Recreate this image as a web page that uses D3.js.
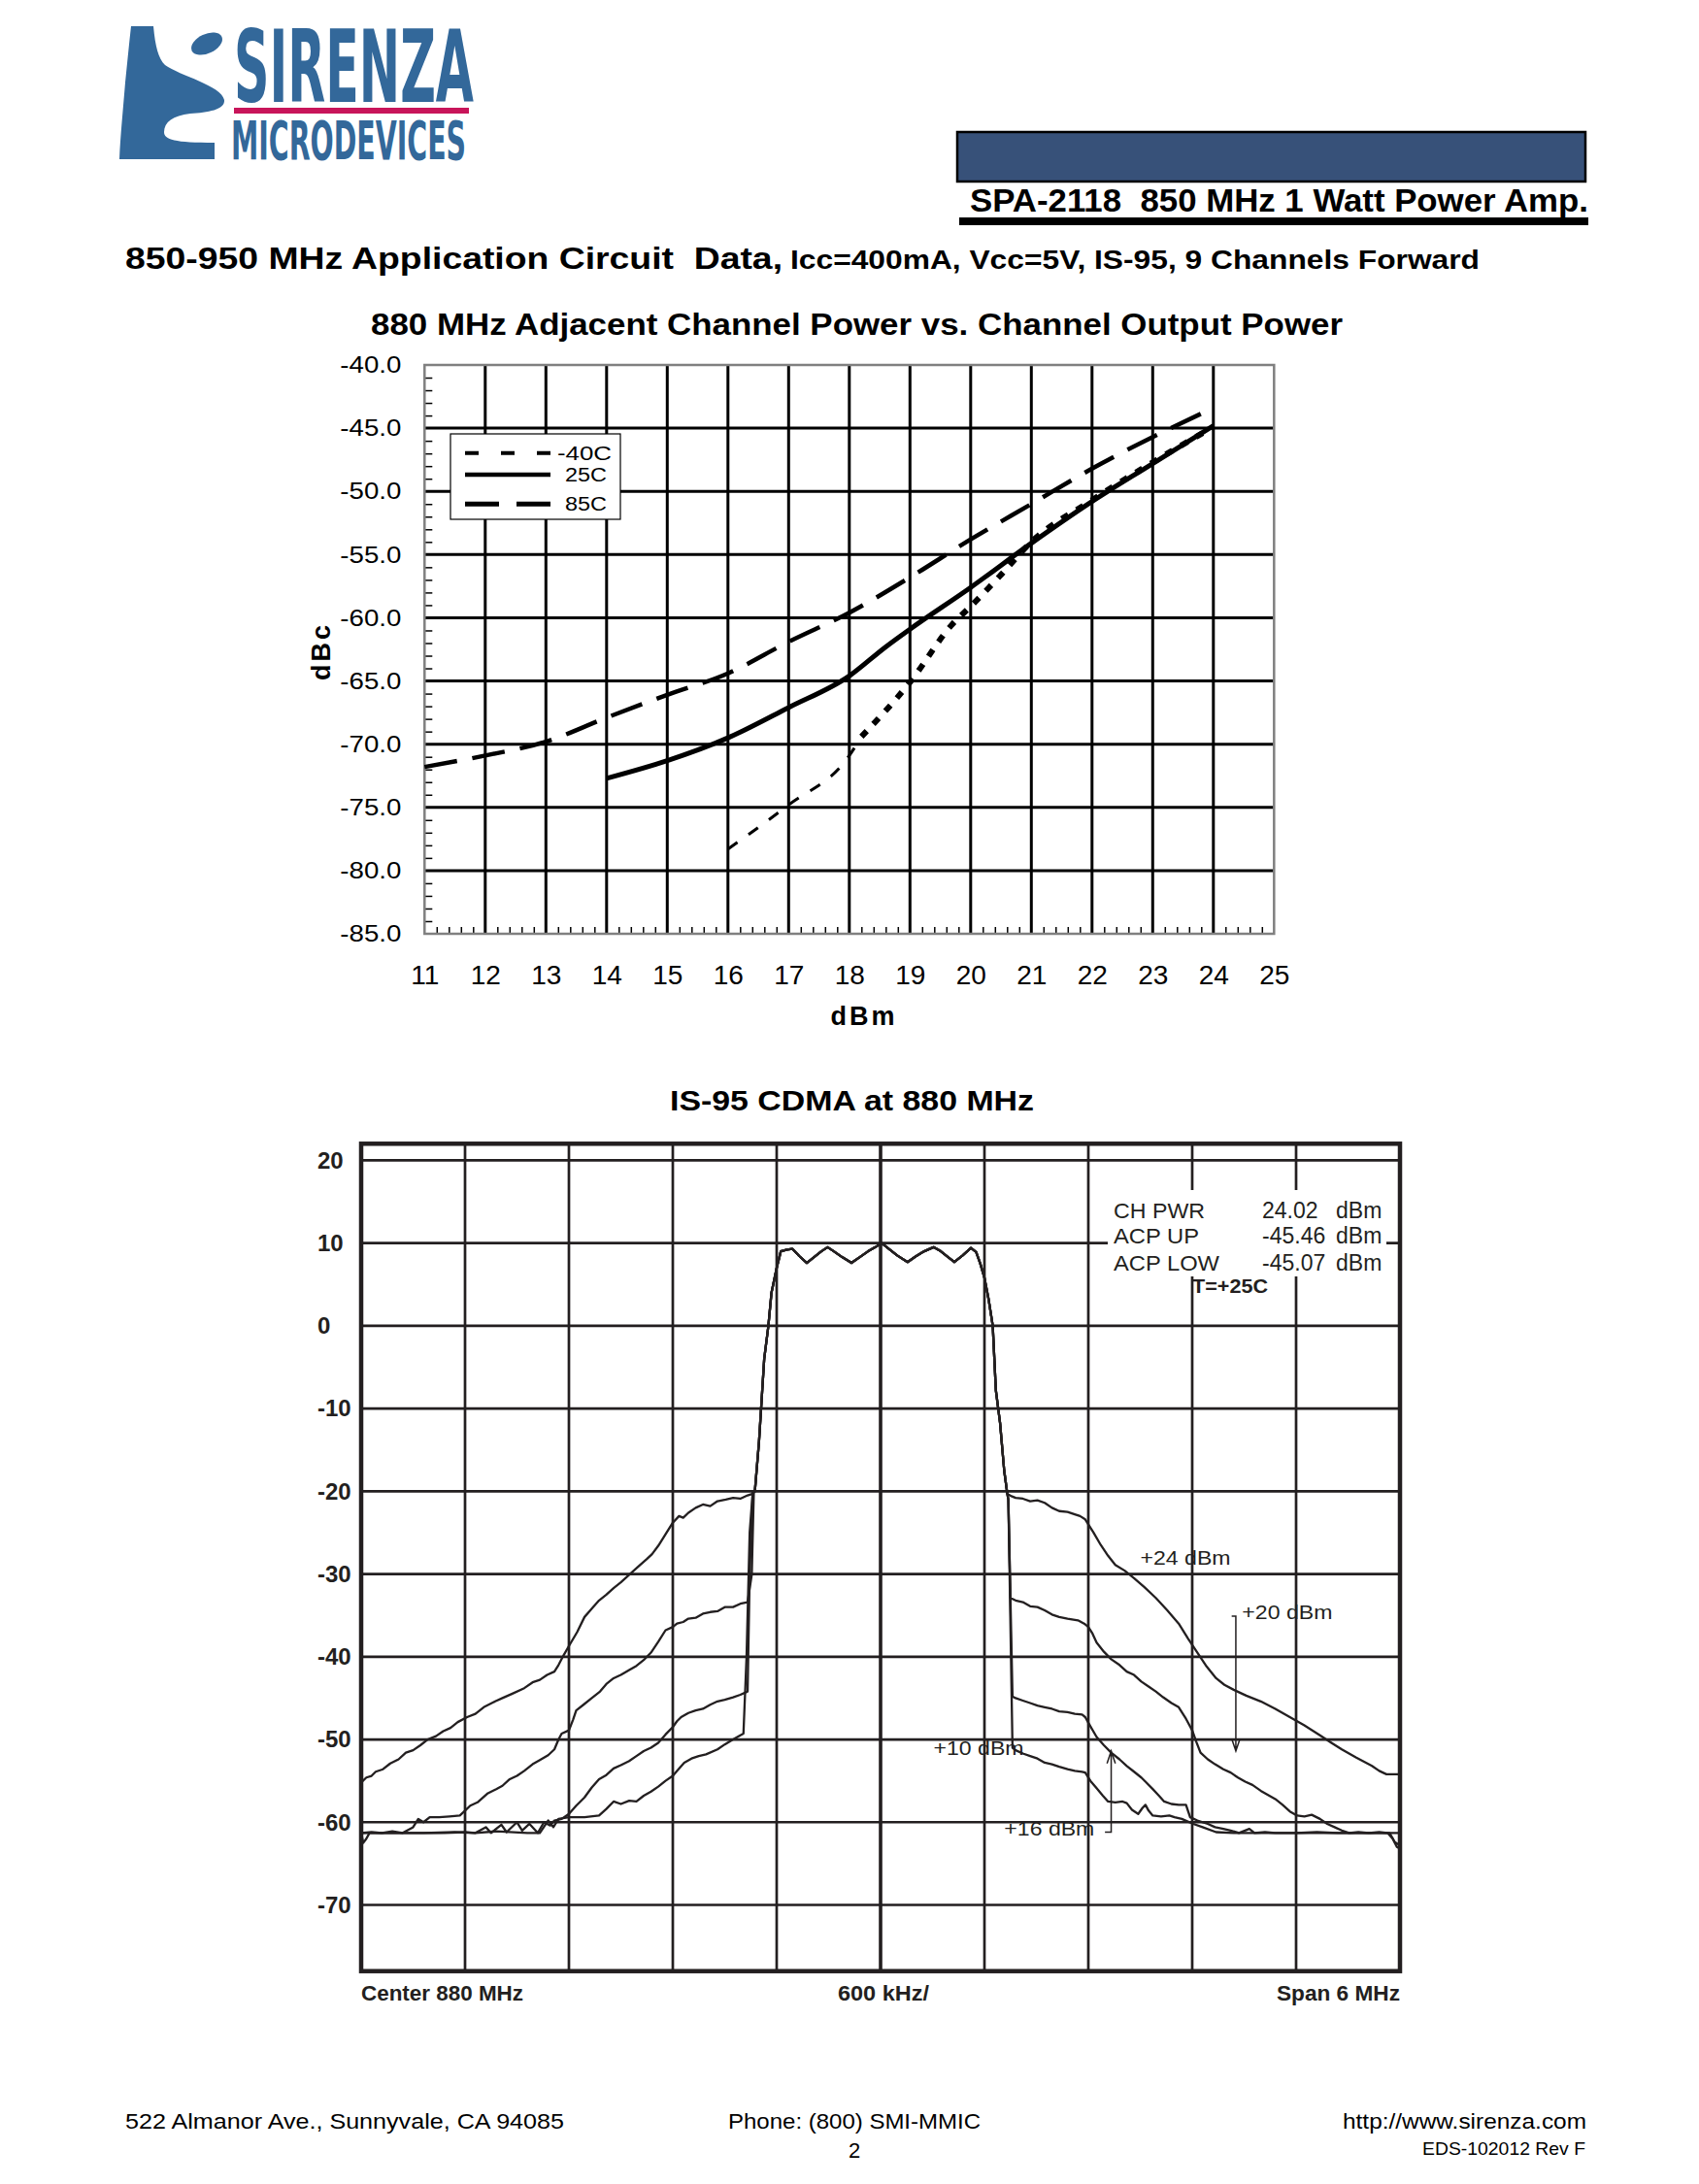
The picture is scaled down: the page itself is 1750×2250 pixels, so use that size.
<!DOCTYPE html>
<html lang="en">
<head>
<meta charset="UTF-8">
<title>SPA-2118 850 MHz 1 Watt Power Amp.</title>
<script src="https://d3js.org/d3.v7.min.js"></script>
<style>
  body { margin: 0; background: #fff; }
  svg { display: block; font-family: "Liberation Sans", Arial, sans-serif; }
  text { white-space: pre; }
</style>
</head>
<body>
<svg id="page" width="1750" height="2250"></svg>
<script>
// ---------- chart 1: adjacent channel power (dBc) vs output power (dBm)
const acpXTicks = [11, 12, 13, 14, 15, 16, 17, 18, 19, 20, 21, 22, 23, 24, 25];
const acpYTicks = [-40, -45, -50, -55, -60, -65, -70, -75, -80, -85];
const acpM40 = [[16,-78.3],[17,-74.8],[18,-70.9],[18.2,-69.4],[19,-65.1],[19.7,-60.5],[20,-59.1],[20.5,-56.6],[21,-54.0],[22,-50.7],[23,-47.7],[24,-44.9]];
const acp25 = [[14,-72.7],[15,-71.3],[16,-69.5],[17,-67.1],[18,-64.6],[18.6,-62.3],[19,-60.9],[20,-57.6],[21,-54.1],[22,-50.8],[23,-47.8],[24,-44.8]];
const acp85 = [[11,-71.8],[12,-70.9],[13,-69.8],[14,-67.9],[15,-66.1],[16,-64.4],[17,-61.9],[18,-59.6],[19,-56.8],[20,-53.8],[21,-51.0],[22,-48.2],[23,-45.7],[24,-43.4]];
const acpLegend = ['-40C', '25C', '85C'];

// ---------- chart 2: IS-95 spectrum, x in divisions (600 kHz/div), y in dBm
const specYTicks = [20, 10, 0, -10, -20, -30, -40, -50, -60, -70];
const cdmaChannel = [[3.79,-20.0],[3.83,-14.0],[3.85,-10.0],[3.88,-4.0],[3.92,0.0],[3.95,4.0],[4.00,7.0],[4.04,9.0],[4.10,9.2],[4.15,9.3],[4.22,8.4],[4.29,7.6],[4.36,8.3],[4.43,9.0],[4.49,9.5],[4.55,9.0],[4.63,8.3],[4.72,7.6],[4.80,8.3],[4.88,9.0],[4.95,9.5],[5.01,10.0],[5.08,9.3],[5.16,8.5],[5.26,7.7],[5.34,8.4],[5.42,9.0],[5.51,9.5],[5.58,9.0],[5.65,8.3],[5.71,7.7],[5.79,8.5],[5.87,9.4],[5.92,8.9],[5.96,7.5],[6.00,5.8],[6.04,3.2],[6.08,0.0],[6.11,-7.8],[6.15,-11.7],[6.19,-17.5],[6.22,-20.3]];

const skirt24L = [[0.00,-55.2],[0.05,-54.6],[0.10,-54.4],[0.14,-53.9],[0.21,-53.6],[0.28,-52.9],[0.36,-52.4],[0.43,-51.6],[0.50,-51.3],[0.57,-50.7],[0.64,-50.0],[0.72,-49.6],[0.79,-49.0],[0.86,-48.6],[0.93,-47.9],[1.02,-47.3],[1.10,-46.9],[1.18,-46.1],[1.29,-45.4],[1.36,-45.0],[1.45,-44.5],[1.57,-43.8],[1.65,-43.1],[1.72,-42.8],[1.79,-42.2],[1.86,-41.8],[1.90,-41.0],[1.95,-39.8],[2.00,-38.7],[2.08,-37.0],[2.15,-35.2],[2.22,-34.2],[2.29,-33.2],[2.36,-32.5],[2.43,-31.7],[2.50,-31.0],[2.58,-30.1],[2.66,-29.2],[2.75,-28.2],[2.80,-27.6],[2.86,-26.6],[2.93,-25.2],[3.00,-23.8],[3.06,-23.0],[3.10,-23.2],[3.15,-22.6],[3.22,-22.0],[3.29,-21.6],[3.36,-21.8],[3.43,-21.2],[3.51,-21.0],[3.58,-20.8],[3.65,-20.9],[3.72,-20.5],[3.77,-20.3]];
const skirt24R = [[6.26,-20.6],[6.30,-20.8],[6.37,-20.9],[6.44,-21.2],[6.51,-21.1],[6.58,-21.4],[6.65,-22.0],[6.72,-22.4],[6.80,-22.5],[6.87,-22.8],[6.92,-23.0],[6.97,-23.4],[7.01,-24.2],[7.05,-25.0],[7.12,-26.5],[7.19,-27.8],[7.26,-28.9],[7.35,-29.6],[7.44,-30.5],[7.54,-31.6],[7.65,-32.9],[7.76,-34.4],[7.87,-36.0],[7.96,-37.8],[8.05,-39.5],[8.14,-41.2],[8.23,-42.6],[8.31,-43.4],[8.40,-44.0],[8.52,-44.7],[8.66,-45.4],[8.80,-46.3],[8.94,-47.3],[9.08,-48.3],[9.23,-49.5],[9.34,-50.4],[9.44,-51.2],[9.58,-52.2],[9.73,-53.2],[9.80,-53.8],[9.87,-54.2],[10.0,-54.2]];

const skirt20L = [[0.00,-61.3],[0.10,-61.2],[0.20,-61.3],[0.30,-61.1],[0.40,-61.3],[0.50,-60.6],[0.55,-59.6],[0.60,-60.0],[0.66,-59.4],[0.75,-59.4],[0.85,-59.3],[0.95,-59.2],[1.00,-58.6],[1.05,-58.0],[1.12,-57.6],[1.22,-56.5],[1.30,-56.0],[1.36,-55.6],[1.43,-54.8],[1.50,-54.4],[1.57,-53.8],[1.65,-53.0],[1.72,-52.5],[1.80,-51.9],[1.86,-51.2],[1.90,-50.0],[1.93,-49.3],[2.00,-48.9],[2.04,-47.6],[2.07,-46.5],[2.14,-45.8],[2.22,-45.0],[2.30,-44.2],[2.36,-43.3],[2.43,-42.6],[2.50,-42.2],[2.58,-41.6],[2.65,-41.1],[2.72,-40.4],[2.79,-39.5],[2.86,-38.2],[2.93,-36.8],[3.00,-36.4],[3.04,-36.0],[3.10,-35.8],[3.15,-35.4],[3.22,-35.3],[3.29,-34.8],[3.36,-34.6],[3.43,-34.5],[3.50,-34.0],[3.58,-34.0],[3.65,-33.6],[3.72,-33.4],[3.76,-30.1],[3.78,-20.0]];
const skirt20R = [[6.23,-21.0],[6.25,-32.9],[6.30,-33.2],[6.37,-33.4],[6.44,-33.9],[6.51,-34.0],[6.58,-34.4],[6.65,-34.9],[6.72,-35.2],[6.80,-35.4],[6.90,-35.6],[6.96,-36.0],[7.00,-36.4],[7.04,-37.2],[7.08,-38.3],[7.15,-39.4],[7.22,-40.3],[7.30,-41.0],[7.37,-41.8],[7.44,-42.2],[7.51,-43.0],[7.58,-43.6],[7.65,-44.2],[7.72,-44.9],[7.80,-45.6],[7.87,-46.1],[7.94,-47.5],[8.00,-48.9],[8.04,-50.3],[8.08,-51.6],[8.15,-52.4],[8.22,-53.0],[8.30,-53.6],[8.37,-54.0],[8.44,-54.6],[8.51,-55.1],[8.58,-55.5],[8.66,-56.2],[8.73,-56.7],[8.80,-57.2],[8.87,-57.9],[8.94,-58.7],[9.01,-59.2],[9.08,-59.3],[9.15,-59.1],[9.23,-59.6],[9.30,-60.2],[9.37,-60.6],[9.44,-61.0],[9.51,-61.3],[9.60,-61.2],[9.70,-61.3],[9.80,-61.2],[9.88,-61.3],[9.93,-62.0],[9.97,-63.0],[10.0,-63.2]];

const skirt16L = [[0.00,-61.3],[0.30,-61.3],[0.60,-61.3],[0.90,-61.2],[1.10,-61.3],[1.20,-60.6],[1.25,-61.3],[1.35,-60.3],[1.40,-61.2],[1.50,-60.0],[1.55,-61.0],[1.62,-60.2],[1.70,-61.3],[1.76,-60.0],[1.82,-60.4],[1.86,-59.8],[1.93,-59.6],[2.00,-59.0],[2.07,-58.0],[2.15,-57.0],[2.22,-55.8],[2.29,-54.8],[2.36,-54.3],[2.43,-53.5],[2.50,-53.1],[2.58,-52.6],[2.65,-52.0],[2.72,-51.4],[2.79,-51.0],[2.86,-50.4],[2.93,-49.4],[3.00,-48.5],[3.04,-47.8],[3.08,-47.3],[3.15,-46.8],[3.22,-46.5],[3.29,-46.3],[3.36,-45.8],[3.43,-45.4],[3.50,-45.2],[3.58,-44.9],[3.65,-44.6],[3.72,-44.2],[3.74,-30.0],[3.77,-20.0]];
const skirt16R = [[6.23,-21.0],[6.27,-44.8],[6.30,-45.0],[6.37,-45.3],[6.44,-45.6],[6.51,-45.9],[6.58,-46.1],[6.65,-46.3],[6.72,-46.6],[6.80,-46.7],[6.87,-46.9],[6.94,-47.0],[6.97,-47.3],[7.01,-48.2],[7.08,-49.7],[7.15,-50.7],[7.22,-51.6],[7.30,-52.4],[7.37,-53.2],[7.44,-53.9],[7.51,-54.6],[7.55,-55.1],[7.62,-56.0],[7.68,-56.8],[7.73,-57.5],[7.80,-57.8],[7.87,-57.9],[7.94,-57.9],[7.98,-59.4],[8.05,-59.8],[8.15,-60.2],[8.22,-60.6],[8.30,-60.8],[8.37,-61.0],[8.45,-61.3],[8.55,-60.8],[8.60,-61.3],[8.70,-61.2],[8.80,-61.3],[9.00,-61.3],[9.20,-61.2],[9.40,-61.3],[9.60,-61.3],[9.80,-61.3],[10.0,-61.3]];

const skirt10L = [[0.00,-61.3],[0.02,-62.5],[0.05,-62.0],[0.08,-61.3],[0.40,-61.3],[0.80,-61.3],[1.00,-61.2],[1.10,-61.3],[1.30,-61.1],[1.60,-61.3],[1.72,-61.3],[1.80,-59.8],[1.85,-60.6],[1.90,-59.6],[2.00,-59.4],[2.15,-59.4],[2.29,-59.2],[2.36,-58.4],[2.43,-57.5],[2.50,-57.8],[2.58,-57.4],[2.65,-57.5],[2.72,-56.8],[2.79,-56.3],[2.86,-55.7],[2.93,-55.0],[3.00,-54.4],[3.04,-53.8],[3.11,-52.8],[3.18,-52.3],[3.25,-52.0],[3.32,-51.8],[3.43,-51.2],[3.50,-50.6],[3.58,-50.0],[3.65,-49.5],[3.68,-49.3],[3.71,-40.0],[3.74,-25.0],[3.77,-20.0]];
const skirt10R = [[6.23,-21.0],[6.27,-51.0],[6.30,-51.3],[6.37,-51.7],[6.44,-52.0],[6.51,-52.3],[6.58,-52.8],[6.65,-53.0],[6.72,-53.3],[6.80,-53.6],[6.87,-53.8],[6.94,-53.9],[6.97,-54.0],[7.02,-55.0],[7.08,-55.9],[7.14,-56.8],[7.19,-57.5],[7.26,-57.6],[7.33,-57.5],[7.37,-57.7],[7.42,-58.5],[7.48,-59.0],[7.52,-58.3],[7.55,-57.9],[7.58,-58.6],[7.62,-59.2],[7.70,-59.3],[7.78,-59.2],[7.83,-59.4],[7.90,-59.6],[8.01,-60.2],[8.10,-60.6],[8.23,-61.2],[8.40,-61.3],[8.60,-61.3],[8.80,-61.3],[9.00,-61.3],[9.50,-61.3],[9.90,-61.3],[9.95,-62.4],[10.0,-62.8]];

const traceLabels = [
  {text: '+24 dBm', d: 7.50, v: -28.0},
  {text: '+20 dBm', d: 8.48, v: -34.6},
  {text: '+10 dBm', d: 5.51, v: -51.0},
  {text: '+16 dBm', d: 6.19, v: -60.8}
];
const measLabels = ['CH PWR', 'ACP UP', 'ACP LOW'];
const measValues = ['24.02', '-45.46', '-45.07'];

const svg = d3.select('#page');
const ink = '#231f20';
const blue = '#33689a';

function label(g, x, y, str, size, weight, len, anchor) {
  let t = g.append('text')
    .attr('x', x).attr('y', y)
    .attr('font-size', size)
    .attr('font-weight', weight || 'normal')
    .attr('text-anchor', anchor || 'start')
    .text(str);
  if (len) t.attr('textLength', len).attr('lengthAdjust', 'spacingAndGlyphs');
  return t;
}

// ---------- page header
let head = svg.append('g');
head.append('path')
  .attr('d', 'M135,27 L158,27 C160,48 163,60 170,67 C185,78 228,88 231,103 C232,113 214,116 196,117 C178,119 169,126 169,136 C169,144 180,147 221,147 L221,164 L123,164 C124,140 127,110 129,85 C131,65 133,45 135,27 Z')
  .attr('fill', blue);
head.append('ellipse').attr('cx', 213).attr('cy', 45).attr('rx', 17).attr('ry', 10)
  .attr('transform', 'rotate(-25,213,45)').attr('fill', blue);
// logo words as one text block
let logo = head.append('text').attr('fill', blue).attr('font-weight', 'bold')
  .attr('font-family', '"DejaVu Sans", sans-serif');
logo.append('tspan').attr('x', 241).attr('y', 105).attr('font-size', 104)
  .attr('textLength', 247).attr('lengthAdjust', 'spacingAndGlyphs').text('SIRENZA');
logo.append('tspan').attr('x', 238).attr('y', 164).attr('font-size', 56)
  .attr('textLength', 242).attr('lengthAdjust', 'spacingAndGlyphs').text('MICRODEVICES');
head.append('rect').attr('x', 241).attr('y', 111).attr('width', 242).attr('height', 6).attr('fill', '#c8155a');

head.append('rect').attr('x', 986).attr('y', 136).attr('width', 647).attr('height', 51)
  .attr('fill', '#375179').attr('stroke', '#000').attr('stroke-width', 2.5);
label(head, 999, 218, 'SPA-2118  850 MHz 1 Watt Power Amp.', 33, 'bold', 637);
head.append('rect').attr('x', 988).attr('y', 224).attr('width', 648).attr('height', 8).attr('fill', '#000');

label(head, 129, 277, '850-950 MHz Application Circuit  Data,', 32, 'bold', 677);
label(head, 814, 277, 'Icc=400mA, Vcc=5V, IS-95, 9 Channels Forward', 28, 'bold', 710);

// ---------- chart 1
const x1 = d3.scaleLinear().domain([11, 25]).range([437.3, 1312.3]);
const y1 = d3.scaleLinear().domain([-85, -40]).range([962, 376]);
let c1 = svg.append('g');

label(c1, 382, 345, '880 MHz Adjacent Channel Power vs. Channel Output Power', 32, 'bold', 1001);

c1.append('g').selectAll('line').data(acpXTicks.slice(1, -1)).join('line')
  .attr('x1', d => x1(d)).attr('x2', d => x1(d))
  .attr('y1', y1(-40)).attr('y2', y1(-85))
  .attr('stroke', '#000').attr('stroke-width', 3);
c1.append('g').selectAll('line').data(acpYTicks.slice(1, -1)).join('line')
  .attr('x1', x1(11)).attr('x2', x1(25))
  .attr('y1', d => y1(d)).attr('y2', d => y1(d))
  .attr('stroke', '#000').attr('stroke-width', 3);

// minor ticks
let yMinor = d3.range(-84, -40).filter(v => v % 5 !== 0);
c1.append('g').attr('transform', `translate(${x1(11)},0)`)
  .call(d3.axisLeft(y1).tickValues(yMinor).tickSize(-8).tickFormat(''))
  .call(g => g.select('.domain').remove())
  .call(g => g.selectAll('line').attr('stroke', '#000').attr('stroke-width', 1.5));
let xMinor = d3.range(0, 70).map(i => 11 + i * 0.2).filter((v, i) => i % 5 !== 0);
c1.append('g').attr('transform', `translate(0,${y1(-85)})`)
  .call(d3.axisBottom(x1).tickValues(xMinor).tickSize(-7).tickFormat(''))
  .call(g => g.select('.domain').remove())
  .call(g => g.selectAll('line').attr('stroke', '#000').attr('stroke-width', 1.5));

c1.append('rect').attr('x', x1(11)).attr('y', y1(-40))
  .attr('width', x1(25) - x1(11)).attr('height', y1(-85) - y1(-40))
  .attr('fill', 'none').attr('stroke', '#808080').attr('stroke-width', 2.5);

// axis labels
c1.append('g').attr('transform', `translate(${x1(11)},0)`)
  .call(d3.axisLeft(y1).tickValues(acpYTicks).tickSize(0).tickPadding(24).tickFormat(d => d.toFixed(1)))
  .call(g => g.select('.domain').remove())
  .call(g => g.selectAll('text').attr('font-size', 24).attr('fill', '#000')
    .attr('font-family', '"Liberation Sans", Arial, sans-serif')
    .attr('textLength', 63).attr('lengthAdjust', 'spacingAndGlyphs'));
c1.append('g').attr('transform', `translate(0,${y1(-85)})`)
  .call(d3.axisBottom(x1).tickValues(acpXTicks).tickSize(0).tickPadding(32).tickFormat(d => d))
  .call(g => g.select('.domain').remove())
  .call(g => g.selectAll('text').attr('font-size', 28).attr('fill', '#000')
    .attr('font-family', '"Liberation Sans", Arial, sans-serif'));

label(c1, 890, 1056, 'dBm', 27, 'bold', null, 'middle').attr('letter-spacing', 3);
label(c1, 0, 0, 'dBc', 27, 'bold', null, 'middle').attr('letter-spacing', 3)
  .attr('transform', 'translate(340,671) rotate(-90)');

// curves
const line1 = d3.line().x(d => x1(d[0])).y(d => y1(d[1])).curve(d3.curveMonotoneX);
c1.append('path').datum(acp85).attr('d', line1).attr('fill', 'none')
  .attr('stroke', '#000').attr('stroke-width', 4.5).attr('stroke-dasharray', '34,16');
c1.append('path').datum(acp25).attr('d', line1).attr('fill', 'none')
  .attr('stroke', '#000').attr('stroke-width', 5);
c1.append('path').datum(acpM40.filter(d => d[0] <= 18.2)).attr('d', line1).attr('fill', 'none')
  .attr('stroke', '#000').attr('stroke-width', 3).attr('stroke-dasharray', '12,14');
c1.append('path').datum(acpM40.filter(d => d[0] >= 18.2)).attr('d', line1).attr('fill', 'none')
  .attr('stroke', '#000').attr('stroke-width', 6).attr('stroke-dasharray', '8,10');

// legend
let lg = c1.append('g');
lg.append('rect').attr('x', 464).attr('y', 447).attr('width', 175).attr('height', 88)
  .attr('fill', '#fff').attr('stroke', '#000').attr('stroke-width', 1.2);
const legY = [466.7, 489, 519.3];
const legDash = ['14,23', null, '35,18'];
const legW = [4, 4.5, 5];
acpLegend.forEach((name, i) => {
  lg.append('line').attr('x1', 479).attr('x2', 567).attr('y1', legY[i]).attr('y2', legY[i])
    .attr('stroke', '#000').attr('stroke-width', legW[i])
    .attr('stroke-dasharray', legDash[i]);
  label(lg, i === 0 ? 574 : 582, legY[i] + 7, name, 20, 'normal', i === 0 ? 56 : 43);
});

// ---------- chart 2
const x2 = d3.scaleLinear().domain([0, 10]).range([372, 1442]);
const y2 = d3.scaleLinear().domain([-78, 22]).range([2030.7, 1178.3]);
let c2 = svg.append('g');

label(c2, 690, 1144, 'IS-95 CDMA at 880 MHz', 30, 'bold', 375);

c2.append('g').selectAll('line').data(d3.range(1, 10)).join('line')
  .attr('x1', d => x2(d)).attr('x2', d => x2(d))
  .attr('y1', y2(22)).attr('y2', y2(-78))
  .attr('stroke', ink).attr('stroke-width', d => d === 5 ? 3.6 : 2.7);
c2.append('g').selectAll('line').data(specYTicks).join('line')
  .attr('x1', x2(0)).attr('x2', x2(10))
  .attr('y1', d => y2(d)).attr('y2', d => y2(d))
  .attr('stroke', ink).attr('stroke-width', 2.7);

c2.append('g').selectAll('text').data(specYTicks).join('text')
  .attr('x', 327).attr('y', d => y2(d)).attr('dy', '0.35em')
  .attr('font-size', 24).attr('font-weight', 'bold').attr('fill', ink)
  .text(d => d);

// measurement readout
c2.append('rect').attr('x', 1141).attr('y', 1226).attr('width', 287).attr('height', 89).attr('fill', '#fff');
measLabels.forEach((m, i) => {
  let by = [1255, 1281, 1309][i];
  label(c2, 1147, by, m, 22, 'normal', [94, 88, 109][i]).attr('fill', ink);
  label(c2, 1300, by, measValues[i], 23, 'normal').attr('fill', ink);
  label(c2, 1376, by, 'dBm', 23, 'normal').attr('fill', ink);
});
label(c2, 1228, 1332, 'T=+25C', 21, 'bold', 78).attr('fill', ink);

// traces
const line2 = d3.line().x(d => x2(d[0])).y(d => y2(d[1]));
const traces = [
  skirt24L.concat(cdmaChannel, skirt24R),
  skirt20L.concat(cdmaChannel, skirt20R),
  skirt16L.concat(cdmaChannel, skirt16R),
  skirt10L.concat(cdmaChannel, skirt10R)
];
c2.append('g').selectAll('path').data(traces).join('path')
  .attr('d', line2).attr('fill', 'none')
  .attr('stroke', ink).attr('stroke-width', 2.3).attr('stroke-linejoin', 'round');

traceLabels.forEach(t => {
  label(c2, x2(t.d), y2(t.v), t.text, 21, 'normal', 93).attr('dy', '0.35em').attr('fill', ink);
});
// leader arrows
c2.append('path')
  .attr('d', `M${x2(8.38)},${y2(-35.1)} H${x2(8.42)} V${y2(-51.4)} M${x2(8.38)},${y2(-49.9)} L${x2(8.42)},${y2(-51.4)} L${x2(8.46)},${y2(-49.9)}`)
  .attr('fill', 'none').attr('stroke', ink).attr('stroke-width', 1.5);
c2.append('path')
  .attr('d', `M${x2(7.16)},${y2(-61.2)} H${x2(7.22)} V${y2(-51.4)} M${x2(7.18)},${y2(-52.9)} L${x2(7.22)},${y2(-51.4)} L${x2(7.26)},${y2(-52.9)}`)
  .attr('fill', 'none').attr('stroke', ink).attr('stroke-width', 1.5);

c2.append('rect').attr('x', x2(0)).attr('y', y2(22))
  .attr('width', x2(10) - x2(0)).attr('height', y2(-78) - y2(22))
  .attr('fill', 'none').attr('stroke', ink).attr('stroke-width', 4.5);

label(c2, 372, 2061, 'Center 880 MHz', 22, 'bold', 167).attr('fill', ink);
label(c2, 910, 2061, '600 kHz/', 22, 'bold', 94, 'middle').attr('fill', ink);
label(c2, 1442, 2061, 'Span 6 MHz', 22, 'bold', 127, 'end').attr('fill', ink);

// ---------- footer
let foot = svg.append('g');
label(foot, 129, 2193, '522 Almanor Ave., Sunnyvale, CA 94085', 22, 'normal', 452);
label(foot, 750, 2193, 'Phone: (800) SMI-MMIC', 22, 'normal', 260);
label(foot, 1383, 2193, 'http://www.sirenza.com', 22, 'normal', 251);
label(foot, 880, 2223, '2', 22, 'normal', null, 'middle');
label(foot, 1465, 2220, 'EDS-102012 Rev F', 19, 'normal', 168);
</script>
</body>
</html>
